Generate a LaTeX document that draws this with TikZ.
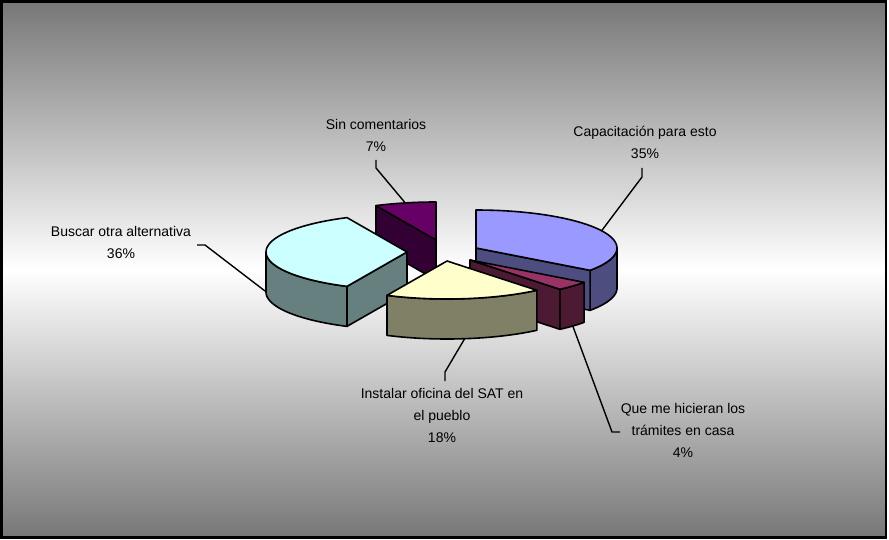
\documentclass[tikz,border=0pt]{standalone}
\usepackage{fontspec}
\setmainfont{Liberation Sans}
\definecolor{bluetop}{HTML}{9999FF}
\definecolor{blueside}{HTML}{4D4D80}
\definecolor{martop}{HTML}{993366}
\definecolor{marside}{HTML}{4D1A33}
\definecolor{yeltop}{HTML}{FFFFCC}
\definecolor{yelside}{HTML}{808066}
\definecolor{cyatop}{HTML}{CCFFFF}
\definecolor{cyaside}{HTML}{668080}
\definecolor{purtop}{HTML}{660066}
\definecolor{purside}{HTML}{330033}
\definecolor{bggray}{HTML}{777777}
\newcommand\PA{141}
\newcommand\PB{38}
\newcommand\PH{40}
% outer wall: cx cy t1 t2 colour
\newcommand\piewall[5]{%
 \filldraw[slicepart,fill=#5] plot[domain=#3:#4,samples=40] ({#1+\PA*sin(\x)},{#2-\PB*cos(\x)}) -- plot[domain=#4:#3,samples=40] ({#1+\PA*sin(\x)},{#2-\PB*cos(\x)+\PH}) -- cycle;}
% radial cut face: cx cy t colour
\newcommand\piecut[4]{%
 \filldraw[slicepart,fill=#4] (#1,#2) -- ({#1+\PA*sin(#3)},{#2-\PB*cos(#3)}) -- ({#1+\PA*sin(#3)},{#2-\PB*cos(#3)+\PH}) -- (#1,#2+\PH) -- cycle;}
% top face: cx cy t1 t2 colour
\newcommand\pietop[5]{%
 \filldraw[slicepart,fill=#5] (#1,#2) -- plot[domain=#3:#4,samples=40] ({#1+\PA*sin(\x)},{#2-\PB*cos(\x)}) -- cycle;}
\tikzset{
 slicepart/.style={draw=black,line width=1.6pt,line join=round},
 leader/.style={draw=black,line width=1.4pt},
 lbl/.style={align=center,inner sep=0pt,font=\fontsize{14}{22}\selectfont},
}
\begin{document}
\begin{tikzpicture}[x=1pt,y=-1pt]
\useasboundingbox (0,0) rectangle (889,540);
\fill[white] (0,0) rectangle (889,540);
\shade[top color=bggray,bottom color=bggray,middle color=white] (1.5,1.3) rectangle (885.8,537.7);
\draw[line width=2.5pt] (1.5,1.3) rectangle (885.8,537.7);

% Sin comentarios (purple)
\piecut{436}{240}{334.8}{purside}
\pietop{436}{240}{334.8}{360}{purtop}
% Capacitacion (blue)
\piewall{476}{248}{90}{126}{blueside}
\piecut{476}{248}{126}{blueside}
\pietop{476}{248}{0}{126}{bluetop}
% Buscar (cyan)
\piewall{407}{252}{205.2}{270}{cyaside}
\piecut{407}{252}{205.2}{cyaside}
\pietop{407}{252}{205.2}{334.8}{cyatop}
% Que me hicieran (maroon)
\piewall{470}{260}{126}{140.4}{marside}
\piecut{470}{260}{140.4}{marside}
\pietop{470}{260}{126}{140.4}{martop}
% Instalar (yellow)
\piewall{447}{261}{140.4}{205.2}{yelside}
\pietop{447}{261}{140.4}{205.2}{yeltop}

% labels
\node[lbl] (lsin) at (376,135) {Sin comentarios\\7\%};
\node[lbl] (lcap) at (645,142) {Capacitación para esto\\35\%};
\node[lbl] (lbus) at (121,242) {Buscar otra alternativa\\36\%};
\node[lbl] (lins) at (442,415) {Instalar oficina del SAT en\\el pueblo\\18\%};
\node[lbl] (lque) at (683,430) {Que me hicieran los\\trámites en casa\\4\%};

% leader coordinates
\coordinate (sinA) at (376,160);
\coordinate (sinE) at ({436+141*sin(347.4)},{240-38*cos(347.4)});
\coordinate (capA) at (642,168);
\coordinate (capE) at ({476+141*sin(63)},{248-38*cos(63)});
\coordinate (busA) at (197,245);
\coordinate (busE) at (265,291);
\coordinate (insA) at (445,381);
\coordinate (insE) at ({447+141*sin(172.8)},{261-38*cos(172.8)+40});
\coordinate (queA) at (620,432);
\coordinate (queE) at ({470+141*sin(133.2)},{260-38*cos(133.2)+40});

\draw[leader] (sinA) -- ++(0,8) -- (sinE);
\draw[leader] (capA) -- ++(0,9) -- (capE);
\draw[leader] (busA) -- ++(8,0) -- (busE);
\draw[leader] (insA) -- ++(0,-9) -- (insE);
\draw[leader] (queA) -- ++(-8,0) -- (queE);
\end{tikzpicture}
\end{document}
